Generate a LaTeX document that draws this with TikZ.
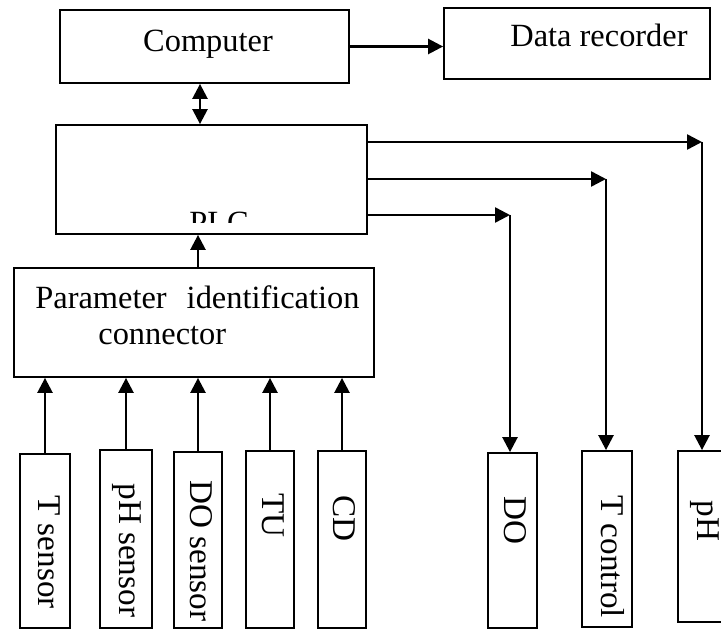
\documentclass[tikz,border=0pt]{standalone}
\usepackage{fontspec}
\setmainfont{Liberation Serif}
\usetikzlibrary{arrows.meta,fit}
\begin{document}
\begin{tikzpicture}[x=0.5bp,y=-0.5bp,
  box/.style={draw, line width=0.9bp, inner sep=0pt},
  txt/.style={inner sep=0pt, font=\fontsize{16.2bp}{19bp}\selectfont},
  vtxt/.style={inner sep=0pt, font=\fontsize{16.6bp}{19bp}\selectfont, rotate=-90, anchor=base west},
  arr/.style={line width=1.25bp, -{Triangle[length=7.5bp,width=7.5bp]}},
  darr/.style={line width=1.25bp, {Triangle[length=7.5bp,width=7.5bp]}-{Triangle[length=7.5bp,width=7.5bp]}}]
\useasboundingbox (0,0) rectangle (721,631);
\fill[white] (0,0) rectangle (721,631);

% top row
\node[box, fit={(60,10) (349,83)}] (comp) {};
\node[txt, anchor=base] (compt) at (208,52) {Computer};
\node[box, fit={(444,8) (710,79)}] (rec) {};
\node[txt, anchor=base] (rect) at (599,47) {Data recorder};

% controller
\node[box, fit={(56,125) (367,234)}] (plc) {};
\begin{scope}
  \clip (56,125) rectangle (367,223);
  \node[txt, anchor=base west] (plct) at (189,234) {PLC};
\end{scope}

% parameter identification connector
\node[box, fit={(14,268) (374,377)}] (par) {};
\node[txt, anchor=base west] (part1) at (35,308) {Parameter\hspace{10bp}identification};
\node[txt, anchor=base west] (part2) at (98,344) {connector};

% sensors
\node[box, fit={(20,454) (70,628)}] (tsen) {};
\node[box, fit={(100,450) (152,628)}] (phsen) {};
\node[box, fit={(174,452) (222,628)}] (dosen) {};
\node[box, fit={(246,451) (294,628)}] (tu) {};
\node[box, fit={(318,451) (366,628)}] (cd) {};
\node[vtxt] (tsent) at (38,495) {T sensor};
\node[vtxt] (phsent) at (119,483) {pH sensor};
\node[vtxt] (dosent) at (190,480) {DO sensor};
\node[vtxt] (tut) at (262,493) {TU};
\node[vtxt] (cdt) at (333,495) {CD};

% actuators
\node[box, fit={(488,453) (537,628)}] (doact) {};
\node[box, fit={(582,451) (632,627)}] (tctl) {};
\node[box, fit={(678,451) (730,622)}] (phact) {};
\node[vtxt] (doactt) at (504,496) {DO};
\node[vtxt] (tctlt) at (601,495) {T control};
\node[vtxt] (phactt) at (697,500) {pH};

% connectors
\coordinate (c1) at (200,0);
\coordinate (c2) at (198,0);
\draw[arr] (comp.east) -- (comp.east -| rec.west);
\draw[darr] (comp.south -| c1) -- (plc.north -| c1);
\draw[arr] (par.north -| c2) -- (plc.south -| c2);
\foreach \s in {tsen,phsen,dosen,tu,cd}
  \draw[arr] (\s.north) -- (par.south -| \s.north);

\coordinate (k1) at (702,142);
\coordinate (k2) at (606,179);
\coordinate (k3) at (510,215);
\draw[arr] (plc.east |- k1) -- (k1);
\draw[arr] (plc.east |- k2) -- (k2);
\draw[arr] (plc.east |- k3) -- (k3);
\draw[arr] (k1) -- (k1 |- phact.north);
\draw[arr] (k2) -- (k2 |- tctl.north);
\draw[arr] (k3) -- (k3 |- doact.north);
\end{tikzpicture}
\end{document}
